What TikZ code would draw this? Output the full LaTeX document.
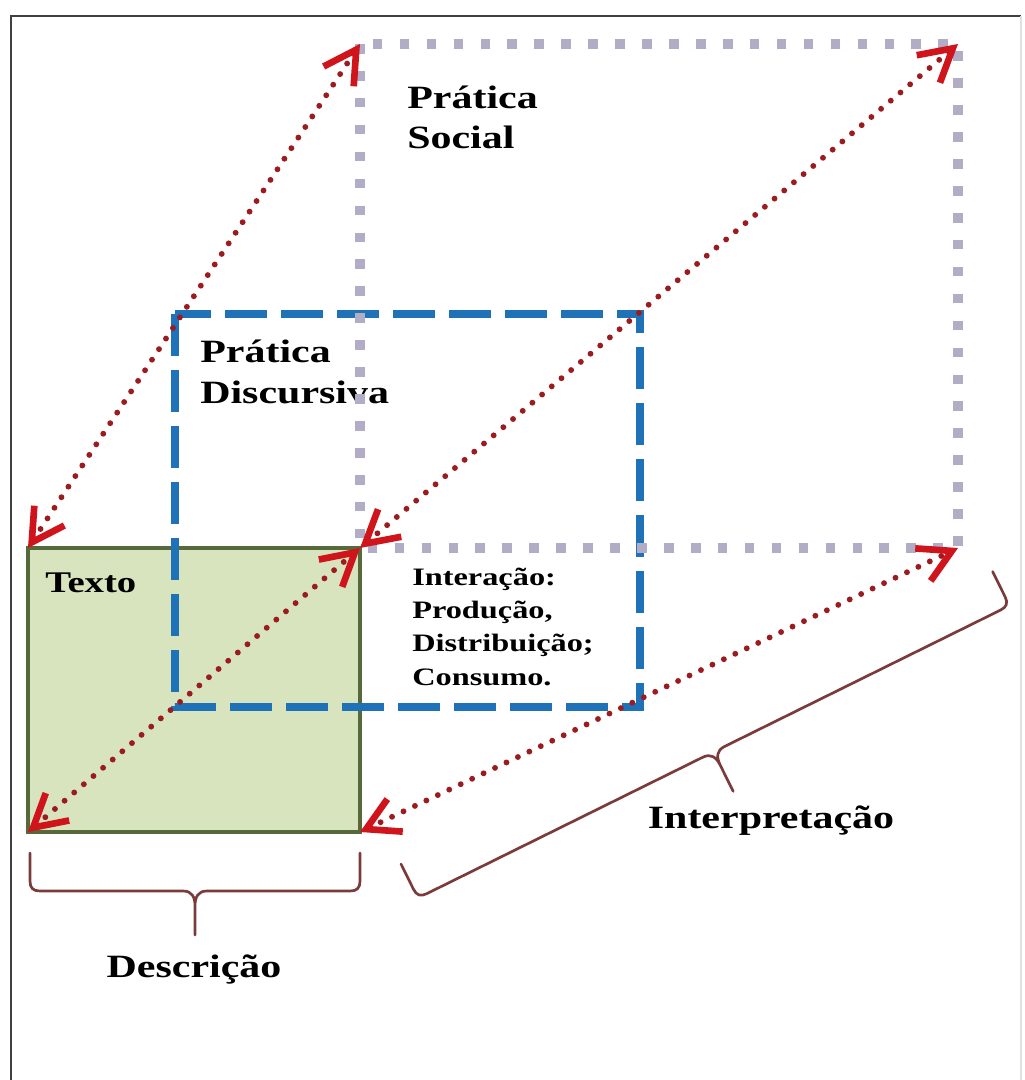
\documentclass[tikz,border=0pt]{standalone}
\usepackage{fontspec}
\setmainfont{Liberation Serif}
\newfontfamily\lblfont[FakeStretch=1.29]{Liberation Serif}
\usetikzlibrary{arrows.meta}
\definecolor{greenfill}{HTML}{D7E4BD}
\definecolor{greenline}{HTML}{55693A}
\definecolor{bluedash}{HTML}{1F72B8}
\definecolor{graydot}{HTML}{B3ACC6}
\definecolor{dotred}{HTML}{9B1B1F}
\definecolor{arrowred}{HTML}{D0141B}
\definecolor{bracebrown}{HTML}{7B3B3B}
\newcommand{\mybracepath}[1]{%
  \draw[bracestyle] (0,0) -- (0,28) .. controls (0,35) and (3,38) .. (10,38)
    -- ({#1/2-12},38) .. controls ({#1/2-3},38) and ({#1/2},44) .. ({#1/2},53)
    .. controls ({#1/2},44) and ({#1/2+3},38) .. ({#1/2+12},38)
    -- ({#1-10},38) .. controls ({#1-3},38) and (#1,35) .. (#1,28) -- (#1,0)
    ({#1/2},53) -- ({#1/2},82);}
\begin{document}
\begin{tikzpicture}[x=0.75pt,y=-0.75pt,
  greenbox/.style={draw=greenline, fill=greenfill, line width=2.6pt},
  bluebox/.style={draw=bluedash, line width=6pt, dash pattern=on 31.5pt off 10.5pt},
  graybox/.style={draw=graydot, line width=7.2pt, dash pattern=on 7.2pt off 13pt},
  redarrow/.style={draw=dotred, line width=4.4pt, line cap=round, dash pattern=on 0pt off 9.5pt,
    {Straight Barb[length=24pt, width=27pt, line width=5pt, color=arrowred]}-{Straight Barb[length=24pt, width=27pt, line width=5pt, color=arrowred]}},
  bracestyle/.style={draw=bracebrown, line width=2pt, line join=round, line cap=round},
  bigtxt/.style={font=\lblfont\bfseries\fontsize{24.4}{30.5}\selectfont, inner sep=0pt, align=left, anchor=base west},
  smalltxt/.style={font=\lblfont\bfseries\fontsize{18.8}{25}\selectfont, inner sep=0pt, align=left, anchor=base west}]
\useasboundingbox (0,0) rectangle (1024,1080);
% outer frame
\draw[line width=2.2pt, black!75] (11,1090) -- (11,16) -- (1021,16);
\draw[line width=1.2pt, black!12] (1021,16) -- (1021,1090);
% corners
\coordinate (gTL) at (28,548);
\coordinate (gTR) at (360,548);
\coordinate (gBL) at (28,832);
\coordinate (gBR) at (360,832);
\coordinate (sTL) at (360,44);
\coordinate (sTR) at (958,44);
\coordinate (sBR) at (958,548);
\coordinate (bTL) at (175,314);
\coordinate (bBR) at (640,707);
% boxes
\draw[greenbox] (gTL) rectangle (gBR);
\draw[bluebox] (bTL) rectangle (bBR);
% texts (multi-line nodes are anchored at the baseline of their last line)
\node[bigtxt] (social) at (407,149) {Prática\\Social};
\node[bigtxt] (discursiva) at (200,403) {Prática\\Discursiva};
\node[bigtxt, font=\lblfont\bfseries\fontsize{22.5}{27}\selectfont] (texto) at (45,592) {Texto};
\node[smalltxt] (interacao) at (412,685) {Interação:\\Produção,\\Distribuição;\\Consumo.};
\node[bigtxt, anchor=base] (descricao) at (194,977) {Descrição};
\node[bigtxt, anchor=base] (interpretacao) at (771,828) {Interpretação};
% social practice box
\draw[graybox] (sTL) rectangle (sBR);
% arrows
\draw[redarrow] (gTL) -- (sTL);
\draw[redarrow] (gTR) -- (sTR);
\draw[redarrow] (gBL) -- (gTR);
\draw[redarrow] (gBR) -- (sBR);
% braces
\begin{scope}[shift={(30,853)}]
  \mybracepath{330}
\end{scope}
\begin{scope}[shift={(401,864)}, rotate=26.3]
  \mybracepath{660}
\end{scope}
\end{tikzpicture}
\end{document}
